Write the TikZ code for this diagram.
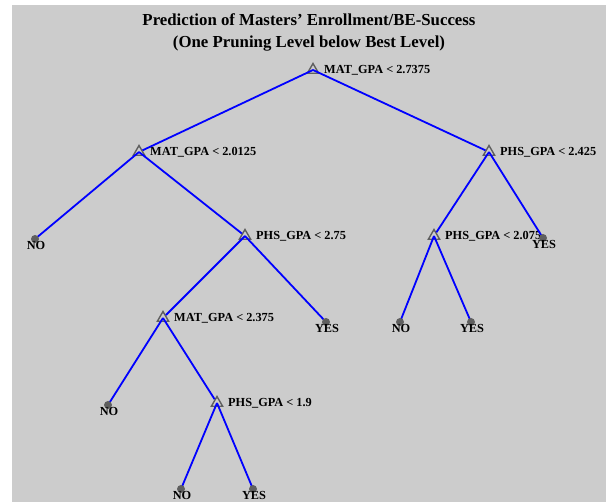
\documentclass[tikz,border=0pt]{standalone}
\usepackage{fontspec}
\setmainfont{Liberation Serif}
\usepackage{xcolor}
\usepackage{tikz}
\usetikzlibrary{shapes.geometric,positioning}

\definecolor{panelgray}{RGB}{204,204,204}
\definecolor{markgray}{RGB}{95,95,95}

\begin{document}
\begin{tikzpicture}[x=1pt,y=-1pt,
    split/.style={regular polygon, regular polygon sides=3, draw=markgray, line width=1.4pt,
        inner sep=0pt, minimum size=13pt},
    leaf/.style={circle, fill=markgray, inner sep=0pt, minimum size=8pt},
    lbl/.style={font=\fontsize{12.3}{14}\selectfont\bfseries, inner sep=0pt, text=black},
    branch/.style={blue, line width=1.8pt}]
    % Frame
    \useasboundingbox (0,0) rectangle (606,502);
    \fill[panelgray] (12,5) rectangle (606,502);

    % Title
    \node[font=\fontsize{16.8}{22}\selectfont\bfseries, align=center] (title) at (309,32)
        {Prediction of Masters' Enrollment/BE-Success\\(One Pruning Level below Best Level)};

    % Splits
    \node[split] (s1) at (313,70) {};
    \node[split] (s2) at (139,152) {};
    \node[split] (s3) at (489,152) {};
    \node[split] (s4) at (245,236) {};
    \node[split] (s5) at (434,236) {};
    \node[split] (s6) at (163,318) {};
    \node[split] (s7) at (217,403) {};

    \node[lbl, right=11pt of s1.center] (t1) {MAT\_GPA < 2.7375};
    \node[lbl, right=11pt of s2.center] (t2) {MAT\_GPA < 2.0125};
    \node[lbl, right=11pt of s3.center] (t3) {PHS\_GPA < 2.425};
    \node[lbl, right=11pt of s4.center] (t4) {PHS\_GPA < 2.75};
    \node[lbl, right=11pt of s5.center] (t5) {PHS\_GPA < 2.075};
    \node[lbl, right=11pt of s6.center] (t6) {MAT\_GPA < 2.375};
    \node[lbl, right=11pt of s7.center] (t7) {PHS\_GPA < 1.9};

    % Leaves
    \coordinate (l1) at (35,239);
    \coordinate (l2) at (543,238);
    \coordinate (l3) at (326,322);
    \coordinate (l4) at (400,322);
    \coordinate (l5) at (471,322);
    \coordinate (l6) at (108,405);
    \coordinate (l7) at (181,489);
    \coordinate (l8) at (253,489);

    % Branches
    \foreach \a/\b in {s1/s2, s1/s3, s2/l1, s2/s4, s3/s5, s3/l2, s4/s6, s4/l3,
                       s5/l4, s5/l5, s6/l6, s6/s7, s7/l7, s7/l8} {
        \draw[branch] (\a.center) -- (\b);
    }

    % Leaf marks and classes
    \foreach \l/\c in {l1/NO, l2/YES, l3/YES, l4/NO, l5/YES, l6/NO, l7/NO, l8/YES} {
        \node[leaf] (m\l) at (\l) {};
        \node[lbl, below=-2pt of m\l.south, xshift=1pt] (c\l) {\c};
    }
\end{tikzpicture}
\end{document}
